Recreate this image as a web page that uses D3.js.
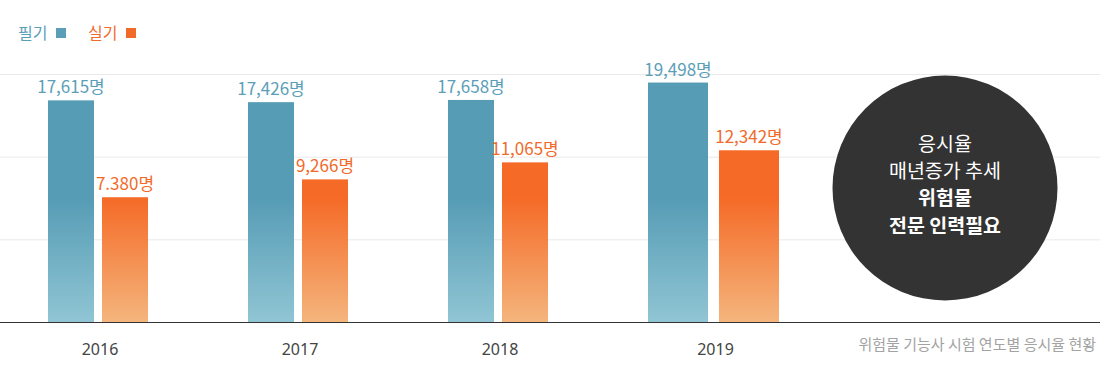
<!DOCTYPE html>
<meta charset="utf-8">
<script src="https://d3js.org/d3.v7.min.js"></script>
<title>위험물 기능사 시험 연도별 응시율 현황</title>
<style>
  body { margin: 0; background: #fff; }
  svg { display: block; }
  .kr { font-family: "Noto Sans CJK KR", "Noto Sans", sans-serif; }
  .year { font-family: "Noto Sans", sans-serif; font-size: 16px; fill: #444; }
</style>
<div id="chart"></div>
<script>
// data
var years = ["2016", "2017", "2018", "2019"];
var written = [17615, 17426, 17658, 19498];   // 필기
var practical = [7380, 9266, 11065, 12342];   // 실기
var writtenLabels = ["17,615명", "17,426명", "17,658명", "19,498명"];
var practicalLabels = ["7.380명", "9,266명", "11,065명", "12,342명"];
var seriesNames = ["필기", "실기"];
var noteLines = ["응시율", "매년증가 추세", "위험물", "전문 인력필요"];
var caption = "위험물 기능사 시험 연도별 응시율 현황";

var width = 1100, height = 375;
var baseY = 322, topY = 74;

var svg = d3.select("#chart").append("svg")
    .attr("width", width)
    .attr("height", height);

var defs = svg.append("defs");
function grad(id, dark, light) {
  var g = defs.append("linearGradient")
      .attr("id", id)
      .attr("gradientUnits", "userSpaceOnUse")
      .attr("x1", 0).attr("x2", 0)
      .attr("y1", topY).attr("y2", baseY);
  g.append("stop").attr("offset", 0).attr("stop-color", dark);
  g.append("stop").attr("offset", 0.5).attr("stop-color", dark);
  g.append("stop").attr("offset", 1).attr("stop-color", light);
}
grad("gBlue", "#569cb5", "#90c5d4");
grad("gOrange", "#f56a27", "#f4b57d");

var blue = "#5b9eb7", orange = "#f26a2a";

var x = d3.scaleBand()
    .domain(years)
    .range([-2, 798]);

// y scale does not start at zero
var y = d3.scaleLinear()
    .domain([-5800, 20400])
    .range([baseY, topY]);

// gridlines
var grid = d3.scaleLinear().domain([0, 3]).range([baseY, topY]);
svg.append("g").selectAll("line")
  .data([1, 2, 3])
  .enter().append("line")
    .attr("x1", 0).attr("x2", width)
    .attr("y1", function(d) { return grid(d) + 0.5; })
    .attr("y2", function(d) { return grid(d) + 0.5; })
    .attr("stroke", "#e9e9e9");

// bars
var rows = years.map(function(yr, i) {
  var big = i === years.length - 1;
  var w = big ? 60 : 46, gap = big ? 11 : 8;
  var x0 = x(yr) + x.bandwidth() / 2 - 50;
  return {year: yr, w: w, gap: gap, x0: x0,
          a: written[i], b: practical[i],
          la: writtenLabels[i], lb: practicalLabels[i]};
});

var groups = svg.append("g").selectAll("g")
  .data(rows)
  .enter().append("g");

groups.append("rect")
    .attr("x", function(d) { return d.x0; })
    .attr("y", function(d) { return y(d.a); })
    .attr("width", function(d) { return d.w; })
    .attr("height", function(d) { return baseY - y(d.a); })
    .attr("fill", "url(#gBlue)");

groups.append("rect")
    .attr("x", function(d) { return d.x0 + d.w + d.gap; })
    .attr("y", function(d) { return y(d.b); })
    .attr("width", function(d) { return d.w; })
    .attr("height", function(d) { return baseY - y(d.b); })
    .attr("fill", "url(#gOrange)");

groups.append("text")
    .attr("class", "kr")
    .attr("x", function(d) { return d.x0 + d.w / 2; })
    .attr("y", function(d) { return y(d.a) - 7; })
    .attr("text-anchor", "middle")
    .style("font-size", "17px")
    .attr("fill", blue)
    .text(function(d) { return d.la; });

groups.append("text")
    .attr("class", "kr")
    .attr("x", function(d) { return d.x0 + d.w * 1.5 + d.gap; })
    .attr("y", function(d) { return y(d.b) - 7; })
    .attr("text-anchor", "middle")
    .style("font-size", "17px")
    .attr("fill", orange)
    .text(function(d) { return d.lb; });

groups.append("text")
    .attr("class", "year")
    .attr("x", function(d) { return d.x0 + d.w + d.gap / 2 + 2; })
    .attr("y", 355)
    .attr("text-anchor", "middle")
    .text(function(d) { return d.year; });

// baseline
svg.append("line")
    .attr("x1", 0).attr("x2", width)
    .attr("y1", baseY + 0.5).attr("y2", baseY + 0.5)
    .attr("stroke", "#333")
    .attr("stroke-width", 1.2);

// legend
var legend = svg.append("g").selectAll("g")
  .data(seriesNames)
  .enter().append("g")
    .attr("transform", function(d, i) { return "translate(" + (18 + i * 70) + ",0)"; });
legend.append("text")
    .attr("class", "kr")
    .attr("y", 39)
    .style("font-size", "16px")
    .attr("fill", function(d, i) { return i ? orange : blue; })
    .text(function(d) { return d; });
legend.append("rect")
    .attr("x", 38).attr("y", 28)
    .attr("width", 10).attr("height", 10)
    .attr("fill", function(d, i) { return i ? orange : blue; });

// note bubble
svg.append("circle")
    .attr("cx", 945).attr("cy", 188)
    .attr("r", 112.5)
    .attr("fill", "#333");

svg.append("g").selectAll("text")
  .data(noteLines)
  .enter().append("text")
    .attr("class", "kr")
    .attr("x", 945)
    .attr("y", function(d, i) { return 151 + i * 27.2; })
    .attr("text-anchor", "middle")
    .style("font-size", "19.5px")
    .style("font-weight", function(d, i) { return i >= 2 ? "bold" : "normal"; })
    .attr("fill", "#fff")
    .text(function(d) { return d; });

// caption
svg.append("text")
    .attr("class", "kr")
    .attr("x", 1096).attr("y", 350)
    .attr("text-anchor", "end")
    .style("font-size", "15px")
    .attr("fill", "#a3a3a3")
    .text(caption);
</script>
